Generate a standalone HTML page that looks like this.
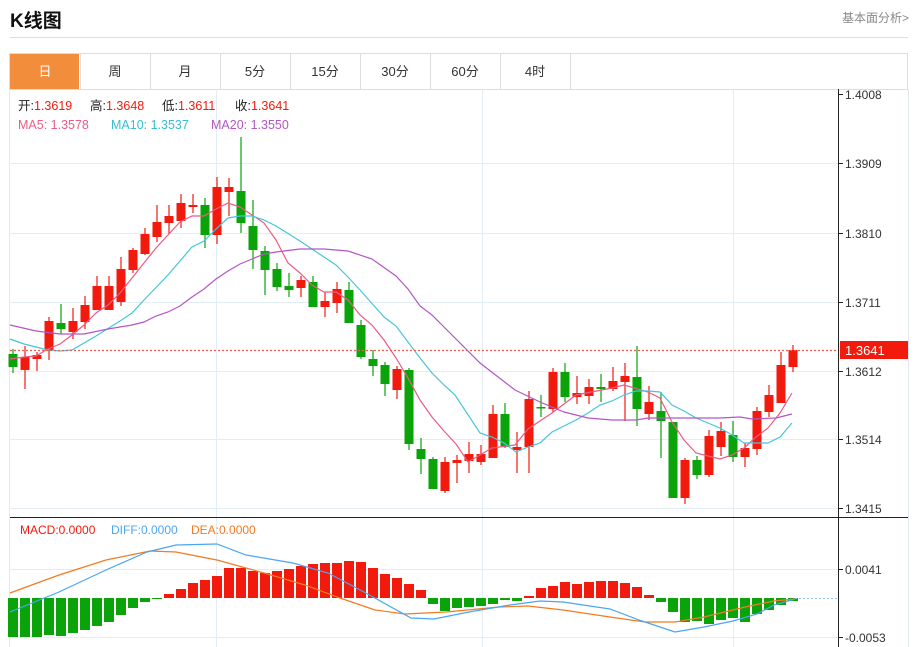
<!DOCTYPE html>
<html><head><meta charset="utf-8">
<style>
body{margin:0;width:915px;height:647px;background:#fff;overflow:hidden;font-family:"Liberation Sans","Noto Sans CJK SC",sans-serif;}
#t{position:absolute;left:10px;top:6px;font-size:19px;font-weight:bold;color:#111;}
#r{position:absolute;right:6px;top:9px;font-size:12px;color:#888;}
svg{position:absolute;left:0;top:0;}
</style></head><body>
<div id="t">K线图</div>
<div id="r">基本面分析&gt;</div>
<svg id="s" width="915" height="647" xmlns="http://www.w3.org/2000/svg" font-family="Liberation Sans, Noto Sans CJK SC, sans-serif"></svg>
<script>
var s='';
function L(x1,y1,x2,y2,c,w,d){s+='<line x1="'+x1+'" y1="'+y1+'" x2="'+x2+'" y2="'+y2+'" stroke="'+c+'" stroke-width="'+(w||1)+'"'+(d?' stroke-dasharray="'+d+'"':'')+'/>';}
function R(x,y,w,h,f,st){s+='<rect x="'+x+'" y="'+y+'" width="'+w+'" height="'+h+'" fill="'+f+'"'+(st?' stroke="'+st+'"':'')+'/>';}
function T(x,y,t,c,sz,a){s+='<text x="'+x+'" y="'+y+'" fill="'+c+'" font-size="'+(sz||12)+'"'+(a?' text-anchor="'+a+'"':'')+'>'+t+'</text>';}
function P(pts,c,w){s+='<polyline fill="none" stroke="'+c+'" stroke-width="'+(w||1.2)+'" points="'+pts.map(function(p){return p.join(',')}).join(' ')+'"/>';}
L(10,37.5,908,37.5,'#ddd');
R(9.5,53.5,898,36,'#fff','#ddd');
var tabs=['日','周','月','5分','15分','30分','60分','4时'];
for(var i=0;i<8;i++){var x=10+70*i;if(i==0)R(10,54,69,35,'#f28d3c');L(x+70+.5,54,x+70+.5,89,'#ddd');T(x+35,76,tabs[i],i==0?'#fff':'#333',13,'middle');}
L(9.5,89,9.5,647,'#e3e8ee');L(908.5,89,908.5,647,'#e3e8ee');
var gy=[163,233,302,371,439,508],gl=['1.3909','1.3810','1.3711','1.3612','1.3514','1.3415'];
gy.forEach(function(y){L(10,y+.5,838,y+.5,'#e3edf5');});
[216,482,733].forEach(function(x){L(x+.5,89,x+.5,647,'#e3edf5');});
L(838.5,89,838.5,647,'#222');
L(10,517.5,908,517.5,'#222');
T(845,99,'1.4008','#333',12);L(838,94.5,843,94.5,'#222');
gy.forEach(function(y,i){L(838,y+.5,843,y+.5,'#222');T(845,y+5,gl[i],'#333',12);});
var C=[['g',354,367,349,373],['r',357,370,346,389],['r',355,359,352,371],['r',321,351,317,360],['g',323,329,304,334],['r',321,332,308,339],['r',305,322,296,329],['r',286,310,276,310],['r',286,310,276,310],['r',269,302,257,306],['r',250,270,248,273],['r',234,254,228,255],['r',222,237,205,242],['r',216,223,205,234],['r',203,221,194,228],['r',205,207,194,213],['g',205,235,198,248],['r',187,235,177,244],['r',187,192,178,216],['g',191,223,137,233],['g',226,250,200,269],['g',251,270,246,295],['g',269,287,263,291],['g',286,290,273,297],['r',280,288,276,297],['g',282,307,276,307],['r',301,307,292,317],['r',289,303,282,313],['g',290,323,282,323],['g',325,357,320,359],['g',359,366,350,376],['g',365,384,362,396],['r',369,390,366,399],['g',370,444,368,450],['g',449,459,438,474],['g',459,489,457,489],['r',462,491,457,493],['r',460,463,455,483],['r',454,461,442,473],['r',454,462,445,465],['r',414,458,405,458],['g',414,447,403,448],['r',447,450,432,473],['r',399,447,391,473],['g',407,408,395,417],['r',372,409,368,412],['g',372,397,363,402],['r',393,397,376,404],['r',387,396,379,404],['g',387,389,374,402],['r',381,389,367,391],['r',376,382,363,421],['g',377,409,346,426],['r',402,414,386,420],['g',411,421,392,458],['g',422,498,422,498],['r',460,498,458,504],['g',460,475,456,479],['r',436,475,430,477],['r',431,447,422,456],['g',435,457,421,462],['r',448,457,443,467],['r',411,449,407,455],['r',395,412,385,417],['r',365,403,352,403],['r',350,367,345,372]];
C.forEach(function(c,i){var x=13+12*i,col=c[0]=='r'?'#f21a0c':'#0aa30a';L(x,c[3],x,c[4],col,1.2);R(x-4.5,c[1],9,Math.max(c[2]-c[1],1.5),col);});
P([[10,359],[24,357],[36,356],[48,349],[60,344],[72,335],[84,325],[96,313],[108,305],[120,293],[132,278],[144,263],[156,248],[168,235],[180,222],[192,216],[204,216],[216,209],[228,203],[240,207],[252,215],[264,223],[276,240],[288,263],[300,273],[312,285],[324,292],[336,292],[348,300],[360,315],[372,325],[384,340],[396,358],[408,378],[420,400],[432,417],[444,431],[456,444],[468,462],[492,448],[515,445],[528,429],[552,413],[576,395],[612,388],[624,385],[648,392],[660,398],[672,422],[684,440],[696,453],[720,459],[732,455],[744,448],[756,437],[768,428],[780,413],[792,393]],'#ec5b85');
P([[10,339],[24,344],[48,350],[60,351],[72,350],[96,336],[120,321],[132,313],[144,300],[168,275],[192,247],[204,241],[216,229],[228,218],[240,216],[252,216],[264,220],[276,226],[300,241],[324,257],[336,265],[348,277],[360,290],[384,317],[396,326],[408,342],[420,358],[432,373],[444,385],[455,395],[480,433],[492,437],[504,443],[516,452],[528,447],[540,443],[552,432],[564,426],[576,420],[588,413],[600,405],[612,401],[624,395],[636,391],[648,391],[660,392],[672,405],[684,411],[696,418],[708,423],[720,428],[732,435],[744,443],[756,443],[768,443],[780,437],[792,423]],'#45c6da');
P([[10,325],[36,331],[60,334],[84,334],[108,329],[132,325],[144,322],[156,316],[168,312],[180,306],[192,297],[204,289],[216,279],[228,271],[240,264],[252,259],[264,254],[276,252],[300,249],[324,249],[348,251],[372,259],[396,276],[408,289],[420,306],[432,315],[444,327],[455,338],[480,363],[515,390],[540,402],[564,412],[588,418],[612,420],[636,420],[648,418],[672,418],[696,418],[720,418],[740,417],[752,419],[776,418],[792,414]],'#b456c6');
L(10,350.5,838,350.5,'#f25a50',1.2,'2,2');
R(840,341,68,18,'#f21a0c');T(845,355,'1.3641','#fff',13);
s+='<text y="110" font-size="12.5"><tspan x="18" fill="#222">开:</tspan><tspan fill="#f21a0c">1.3619</tspan><tspan x="90" fill="#222">高:</tspan><tspan fill="#f21a0c">1.3648</tspan><tspan x="162" fill="#222">低:</tspan><tspan fill="#f21a0c">1.3611</tspan><tspan x="235" fill="#222">收:</tspan><tspan fill="#f21a0c">1.3641</tspan></text>';
s+='<text y="129" font-size="12.5"><tspan x="18" fill="#ec5b85">MA5: 1.3578</tspan><tspan x="111" fill="#36bdd4">MA10: 1.3537</tspan><tspan x="211" fill="#b456c6">MA20: 1.3550</tspan></text>';
L(10,569.5,838,569.5,'#e3edf5');L(10,637.5,838,637.5,'#e3edf5');
L(838,569.5,843,569.5,'#222');L(838,637.5,843,637.5,'#222');
T(845,574,'0.0041','#333',12);T(845,642,'-0.0053','#333',12);
var B=[-39,-39,-39,-37,-38,-35,-32,-28,-24,-17,-10,-4,-1,4,9,15,18,22,30,30,27,25,27,29,32,34,35,35,37,36,30,24,20,14,8,-6,-13,-10,-9,-8,-6,-2,-3,2,10,12,16,14,16,17,17,15,11,3,-4,-14,-24,-23,-26,-22,-20,-24,-16,-12,-7,-3];
B.forEach(function(v,i){var x=13+12*i,col=v>0?'#f21a0c':'#0aa30a';if(v>0)R(x-5,598-v,10,v,col);else R(x-5,598,10,-v,col);});
L(795,598.5,838,598.5,'#8cc4ee',1,'2,2');
P([[10,593],[59,575],[106,560],[150,551],[176,552],[217,560],[264,573],[305,585],[340,598],[375,610],[405,614],[446,612],[499,607],[528,606],[563,610],[610,617],[645,622],[675,622],[704,617],[745,607],[774,601],[795,599]],'#f47a22');
P([[10,612],[59,592],[106,570],[147,552],[176,545],[217,544],[246,555],[293,563],[328,573],[364,592],[411,618],[434,619],[469,612],[510,605],[540,601],[563,602],[610,609],[639,620],[675,632],[704,627],[733,621],[757,614],[774,605],[795,599]],'#4ba6f2');
T(20,534,'MACD:0.0000','#f21a0c',12);T(111,534,'DIFF:0.0000','#4ba6f2',12);T(191,534,'DEA:0.0000','#f47a22',12);
document.getElementById('s').innerHTML=s;
</script>
</body></html>
